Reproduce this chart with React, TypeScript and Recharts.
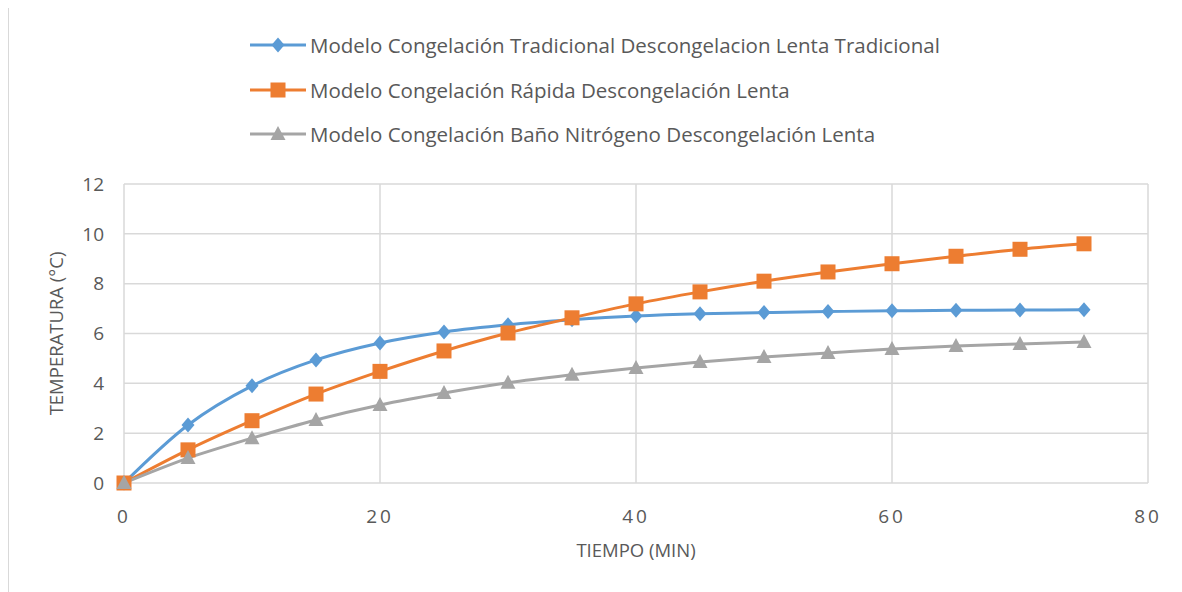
import React from "react"
import { LineChart, Line, XAxis, YAxis, CartesianGrid } from "recharts"

const tiempo = [0, 5, 10, 15, 20, 25, 30, 35, 40, 45, 50, 55, 60, 65, 70, 75]
const tradicional = [0, 2.33, 3.9, 4.94, 5.62, 6.06, 6.35, 6.55, 6.7, 6.79, 6.84, 6.88, 6.91, 6.93, 6.94, 6.95]
const rapida = [0, 1.33, 2.5, 3.57, 4.48, 5.3, 6.02, 6.63, 7.19, 7.67, 8.1, 8.47, 8.8, 9.1, 9.38, 9.6]
const nitrogeno = [0, 1.0, 1.8, 2.53, 3.13, 3.61, 4.02, 4.34, 4.62, 4.86, 5.06, 5.22, 5.38, 5.5, 5.58, 5.66]
const xTicks = [0, 20, 40, 60, 80]
const yTicks = [0, 2, 4, 6, 8, 10, 12]

const series = [
  { key: "trad", name: "Modelo Congelación Tradicional Descongelacion Lenta Tradicional", color: "#5B9BD5", shape: "diamond" },
  { key: "rap", name: "Modelo Congelación Rápida Descongelación Lenta", color: "#ED7D31", shape: "square" },
  { key: "nit", name: "Modelo Congelación Baño Nitrógeno Descongelación Lenta", color: "#A5A5A5", shape: "triangle" },
]

const data = tiempo.map((t, i) => ({ t, trad: tradicional[i], rap: rapida[i], nit: nitrogeno[i] }))

const FONT = "'Open Sans', 'Noto Sans', sans-serif"
const TEXT = "#595959"

function Marker({ cx, cy, shape, color }: { cx: number; cy: number; shape: string; color: string }) {
  if (shape === "diamond") {
    return <polygon points={`${cx},${cy - 7.5} ${cx + 6.5},${cy} ${cx},${cy + 7.5} ${cx - 6.5},${cy}`} fill={color} />
  }
  if (shape === "square") {
    return <rect x={cx - 7.5} y={cy - 7.5} width={15} height={15} fill={color} />
  }
  return <polygon points={`${cx},${cy - 8} ${cx + 7.5},${cy + 6} ${cx - 7.5},${cy + 6}`} fill={color} />
}

function makeDot(shape: string, color: string) {
  return (props: any) => {
    if (props.cx == null || props.cy == null) return <g key={props.key} />
    return <Marker key={props.key} cx={props.cx} cy={props.cy} shape={shape} color={color} />
  }
}

export default function App() {
  return (
    <div
      style={{
        position: "relative",
        width: 1168,
        height: 590,
        marginTop: -2,
        border: "1px solid #d9d9d9",
        boxSizing: "border-box",
        background: "#fff",
        fontFamily: FONT,
      }}
    >
      <div style={{ position: "absolute", left: 241, top: 16 }}>
        {series.map((s) => (
          <div key={s.key} style={{ display: "flex", alignItems: "center", height: 44.5 }}>
            <svg width={58} height={20}>
              <line x1={0} y1={10} x2={56} y2={10} stroke={s.color} strokeWidth={3} />
              <Marker cx={28} cy={10} shape={s.shape} color={s.color} />
            </svg>
            <span style={{ fontSize: 20.5, color: TEXT, marginLeft: 2, whiteSpace: "nowrap" }}>{s.name}</span>
          </div>
        ))}
      </div>
      <div style={{ position: "absolute", left: 0, top: 0 }}>
        <LineChart width={1166} height={586} data={data} margin={{ top: 177, right: 27, bottom: 30, left: 35 }}>
          <CartesianGrid stroke="#d9d9d9" strokeWidth={1.5} />
          <XAxis
            dataKey="t"
            type="number"
            domain={[0, 80]}
            ticks={xTicks}
            axisLine={false}
            tickLine={false}
            tickMargin={21}
            height={80}
            tick={{ fill: TEXT, fontSize: 19, fontFamily: FONT, letterSpacing: 3 }}
            label={{ value: "TIEMPO (MIN)", position: "insideBottom", offset: 6, fill: TEXT, fontSize: 18.5, fontFamily: FONT }}
          />
          <YAxis
            type="number"
            domain={[0, 12]}
            ticks={yTicks}
            axisLine={false}
            tickLine={false}
            tickMargin={14}
            width={80}
            tick={{ fill: TEXT, fontSize: 19, fontFamily: FONT }}
            label={{ value: "TEMPERATURA (°C)", angle: -90, position: "insideLeft", offset: 12, fill: TEXT, fontSize: 18.5, fontFamily: FONT, style: { textAnchor: "middle" } }}
          />
          {series.map((s) => (
            <Line
              key={s.key}
              dataKey={s.key}
              name={s.name}
              type="monotone"
              stroke={s.color}
              strokeWidth={3}
              dot={makeDot(s.shape, s.color)}
              activeDot={false}
              isAnimationActive={false}
            />
          ))}
        </LineChart>
      </div>
    </div>
  )
}
